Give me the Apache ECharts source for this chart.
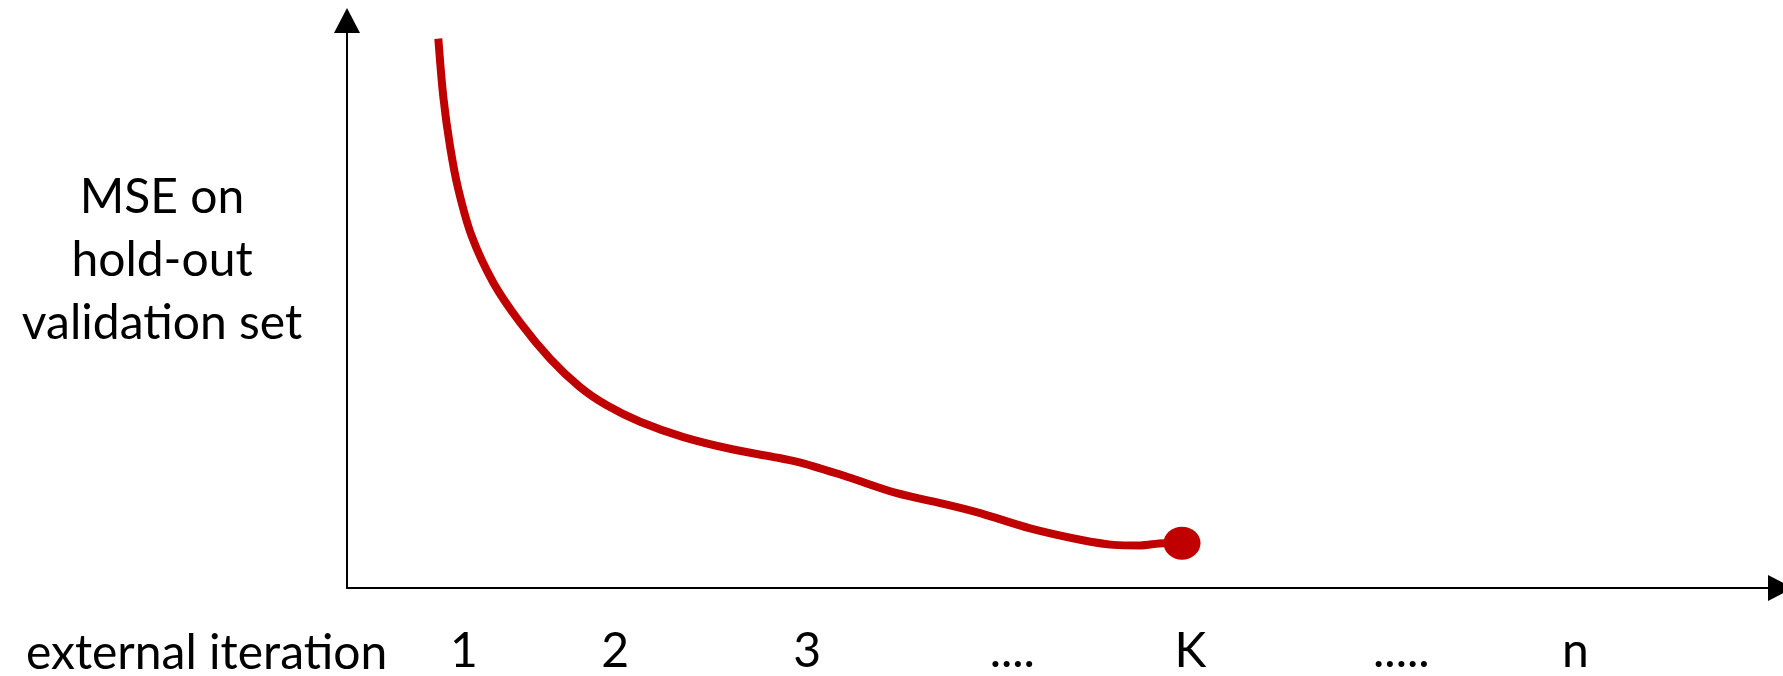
<!DOCTYPE html>
<html>
<head>
<meta charset="utf-8">
<title>MSE on hold-out validation set</title>
<script src="https://cdn.jsdelivr.net/npm/echarts@6/dist/echarts.min.js"></script>
<style>
    html, body {
        margin: 0;
        padding: 0;
        background: #fff;
    }

    #chart {
        width: 1783px;
        height: 676px;
    }
</style>
</head>
<body>
<div id="chart"></div>
<script>
// x axis runs 0..100, y axis 0..100 (no units shown in the figure)
const tickPos = [8.16, 18.7, 32.1, 46.41, 58.83, 73.55, 85.69];
const tickLabels = ['1', '2', '3', '....', 'K', '.....', 'n'];

// red MSE curve
const curveX = [6.37, 6.72, 7.19, 7.77, 8.70, 10.21, 12.07, 14.17, 16.26, 18.12, 20.45, 23.47,
    26.96, 31.49, 34.87, 38.36, 41.85, 44.17, 47.66, 51.15, 53.48, 55.34, 56.97, 58.25];
const curveY = [96.8, 86.5, 77.8, 70.2, 62.0, 53.8, 46.8, 40.4, 35.4, 32.2, 29.3, 26.6,
    24.4, 22.2, 19.6, 16.7, 14.7, 13.2, 10.5, 8.5, 7.6, 7.5, 7.9, 7.9];

// stopping point (iteration K)
const bestX = [58.25];
const bestY = [7.9];

const font = 'Lato, "Open Sans", sans-serif';
const red = '#c00000';

const chart = echarts.init(document.getElementById('chart'));

// filled triangle heads, centred on the line end
const arrowLine = {
    lineStyle: { color: '#000', width: 2 },
    symbol: ['none', 'triangle'],
    symbolSize: [26, 25]
};

const option = {
    animation: false,
    grid: {
        left: 347,
        right: 2.5,
        top: 20.5,
        bottom: 86
    },
    xAxis: {
        type: 'value',
        min: 0,
        max: 100,
        splitLine: { show: false },
        axisTick: { show: false },
        axisLine: arrowLine,
        axisLabel: {
            customValues: tickPos,
            formatter: v => tickLabels[tickPos.indexOf(v)] || '',
            color: '#000',
            fontFamily: font,
            fontSize: 48,
            margin: 40
        }
    },
    yAxis: {
        type: 'value',
        min: 0,
        max: 100,
        splitLine: { show: false },
        axisTick: { show: false },
        axisLabel: { show: false },
        axisLine: Object.assign({ show: true }, arrowLine)
    },
    graphic: [
        {
            type: 'text',
            x: 162,
            y: 166,
            style: {
                text: 'MSE on\nhold-out\nvalidation set',
                align: 'center',
                verticalAlign: 'top',
                lineHeight: 63,
                font: '48px ' + font,
                fill: '#000'
            }
        },
        {
            type: 'text',
            x: 26,
            y: 630,
            style: {
                text: 'external iteration',
                align: 'left',
                verticalAlign: 'top',
                font: '48px ' + font,
                fill: '#000'
            }
        }
    ],
    series: [
        {
            type: 'line',
            data: curveX.map((x, i) => [x, curveY[i]]),
            showSymbol: false,
            smooth: 0.3,
            lineStyle: { color: red, width: 8, cap: 'butt', join: 'round' }
        },
        {
            type: 'scatter',
            data: bestX.map((x, i) => [x, bestY[i]]),
            symbol: 'circle',
            symbolSize: [37, 33],
            itemStyle: { color: red, opacity: 1 }
        }
    ]
};

chart.setOption(option);
</script>
</body>
</html>
